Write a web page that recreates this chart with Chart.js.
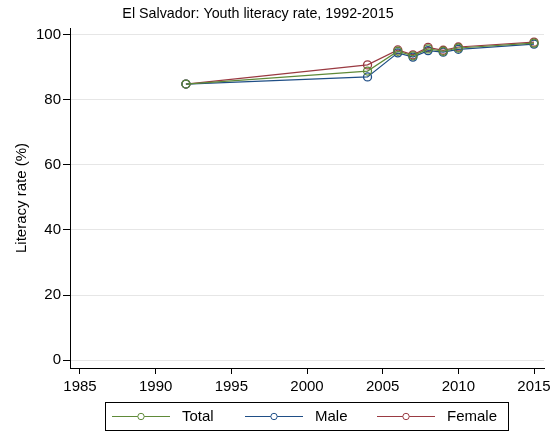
<!DOCTYPE html>
<html>
<head>
<meta charset="utf-8">
<script src="https://cdn.jsdelivr.net/npm/chart.js@4.4.1/dist/chart.umd.min.js"></script>
<style>
  html, body { margin: 0; padding: 0; background: #fff; }
  #chart { display: block; }
</style>
</head>
<body>
<canvas id="chart" width="557" height="433"></canvas>
<script>
// values
const years = [1992, 2004, 2006, 2007, 2008, 2009, 2010, 2015];
const totalRate = [84.9, 88.9, 95.0, 93.6, 95.7, 95.0, 96.0, 97.5];
const maleRate = [84.9, 87.1, 94.5, 93.2, 95.2, 94.7, 95.6, 97.2];
const femaleRate = [84.9, 90.8, 95.4, 93.9, 96.2, 95.3, 96.3, 97.8];
const xTicks = [1985, 1990, 1995, 2000, 2005, 2010, 2015];
const yTicks = [0, 20, 40, 60, 80, 100];
const seriesNames = ["Total", "Male", "Female"];

const COLORS = ["#5f8a38", "#1f4e86", "#9a3a42"];
const FONT = "'Liberation Sans', Arial, sans-serif";
const TITLE = "El Salvador: Youth literacy rate, 1992-2015";

function toPoints(vals) {
  return years.map((y, i) => ({ x: y, y: vals[i] }));
}

function makeSet(label, vals, color) {
  return {
    label,
    data: toPoints(vals),
    borderColor: color,
    backgroundColor: "rgba(0,0,0,0)",
    borderWidth: 1.2,
    pointRadius: 4,
    pointBorderWidth: 1.3,
    pointBackgroundColor: "rgba(0,0,0,0)",
    tension: 0,
  };
}

// title + boxed legend, drawn like Stata does it
const titleAndLegend = {
  id: "titleAndLegend",
  afterDraw(chart) {
    const ctx = chart.ctx;
    ctx.save();
    ctx.fillStyle = "#000";
    ctx.font = "14.3px " + FONT;
    ctx.textAlign = "center";
    ctx.textBaseline = "middle";
    ctx.fillText(TITLE, 258, 14);

    // legend frame
    ctx.strokeStyle = "#000";
    ctx.lineWidth = 1;
    ctx.strokeRect(105.5, 402.5, 403, 28);

    const starts = [112, 245, 377];
    ctx.textAlign = "left";
    ctx.font = "15px " + FONT;
    chart.data.datasets.forEach((ds, i) => {
      const x0 = starts[i];
      const y = 416.5;
      ctx.strokeStyle = ds.borderColor;
      ctx.lineWidth = 1;
      ctx.beginPath(); ctx.moveTo(x0, y); ctx.lineTo(x0 + 58, y); ctx.stroke();
      ctx.fillStyle = "#fff";
      ctx.beginPath(); ctx.arc(x0 + 29, y, 3.2, 0, Math.PI * 2); ctx.fill(); ctx.stroke();
      ctx.fillStyle = "#000";
      ctx.fillText(ds.label, x0 + 70, 417);
    });
    ctx.restore();
  },
};

new Chart(document.getElementById("chart"), {
  type: "line",
  data: {
    datasets: seriesNames.map((name, i) =>
      makeSet(name, [totalRate, maleRate, femaleRate][i], COLORS[i])),
  },
  options: {
    responsive: false,
    animation: false,
    layout: { padding: { left: 0, right: 13, top: 28, bottom: 33 } },
    plugins: {
      title: { display: false },
      legend: { display: false },
      tooltip: { enabled: false },
    },
    scales: {
      x: {
        type: "linear",
        min: 1984.34,
        max: 2015.66,
        afterBuildTicks(scale) { scale.ticks = xTicks.map((v) => ({ value: v })); },
        afterFit(scale) { scale.height = 32; },
        ticks: {
          color: "#000",
          font: { family: FONT, size: 15 },
          padding: 4,
          maxRotation: 0,
          callback: (v) => String(v),
        },
        grid: { drawOnChartArea: false, tickColor: "#000", tickLength: 6 },
        border: { color: "#000" },
      },
      y: {
        min: -2.46,
        max: 102.15,
        afterBuildTicks(scale) { scale.ticks = yTicks.map((v) => ({ value: v })); },
        afterFit(scale) { scale.width = 70; },
        ticks: {
          color: "#000",
          font: { family: FONT, size: 15 },
          padding: 2,
          callback: (v) => String(v),
        },
        grid: { color: "#e6e6e6", tickColor: "#000", tickLength: 7 },
        border: { color: "#000" },
        title: {
          display: true,
          text: "Literacy rate (%)",
          color: "#000",
          font: { family: FONT, size: 15 },
          padding: { top: 13, bottom: 0 },
        },
      },
    },
  },
  plugins: [titleAndLegend],
});
</script>
</body>
</html>
